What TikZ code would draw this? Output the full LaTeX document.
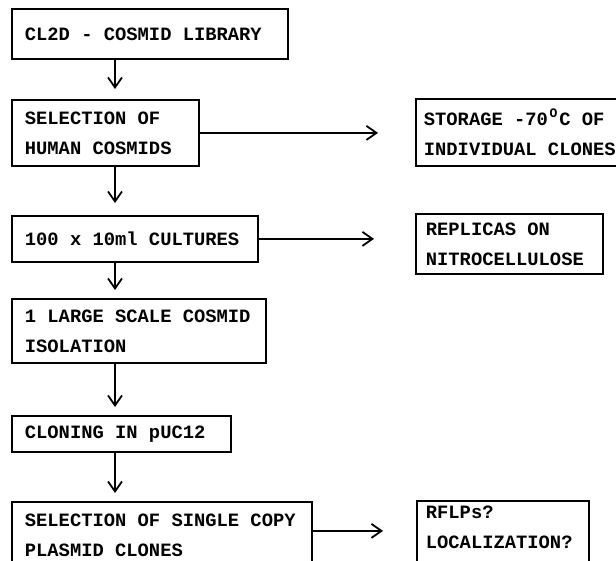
\documentclass[tikz,border=0pt]{standalone}
\usepackage{fontspec}
\setmonofont{Liberation Mono}
\usetikzlibrary{arrows.meta,calc}
\newcommand\fixsp{\spaceskip=11.28pt\relax\xspaceskip=11.28pt\relax}
\begin{document}
\begin{tikzpicture}[x=1pt,y=-1pt,
  box/.style={draw, line width=1.8pt, anchor=north west, inner xsep=13pt, inner ysep=0pt, align=left,
    font=\ttfamily\bfseries\fontsize{18.8}{30}\selectfont, execute at begin node=\fixsp},
  arr/.style={line width=1.8pt, -{Straight Barb[length=10pt,width=14pt,line width=1.8pt]}}]
\useasboundingbox (0,0) rectangle (616,561);
\clip (0,0) rectangle (616,561);
\coordinate (ax) at (115,0);
\node[box, text width=250pt, minimum height=50pt] (b1) at (11,8) {CL2D - COSMID LIBRARY};
\node[box, text width=161pt, minimum height=66pt] (b2) at (11,99) {SELECTION OF\\HUMAN COSMIDS};
\node[box, text width=220pt, minimum height=46pt] (b3) at (11,215) {100 x 10ml CULTURES};
\node[box, text width=228pt, minimum height=64pt] (b4) at (11,298) {1 LARGE SCALE COSMID\\ISOLATION};
\node[box, text width=193pt, minimum height=36pt] (b5) at (11,415) {CLONING IN pUC12};
\node[box, text width=274pt, minimum height=66pt] (b6) at (11,501) {SELECTION OF SINGLE COPY\\PLASMID CLONES};
\node[box, inner xsep=8pt, text width=199pt, minimum height=67pt] (s1) at (415,98)
  {STORAGE -70\raisebox{0.42em}{\makebox[0.6em]{\fontsize{13}{13}\selectfont O}}C OF\\INDIVIDUAL CLONES};
\node[box, inner xsep=10pt, text width=167pt, minimum height=60pt] (s2) at (415,213) {REPLICAS ON\\NITROCELLULOSE};
\node[box, inner xsep=9pt, text width=154pt, minimum height=66pt] (s3) at (416,500) {RFLPs?\\LOCALIZATION?\\[-16pt]\mbox{}};
\coordinate (a6) at ([yshift=4pt]b6.east);
\draw[arr, shorten >=10pt] (b1.south -| ax) -- (b2.north -| ax);
\draw[arr, shorten >=12pt] (b2.south -| ax) -- (b3.north -| ax);
\draw[arr, shorten >=8pt] (b3.south -| ax) -- (b4.north -| ax);
\draw[arr, shorten >=8pt] (b4.south -| ax) -- (b5.north -| ax);
\draw[arr, shorten >=8pt] (b5.south -| ax) -- (b6.north -| ax);
\draw[arr, shorten >=37pt] (b2.east) -- (s1.west |- b2.east);
\draw[arr, shorten >=41pt] (b3.east) -- (s2.west |- b3.east);
\draw[arr, shorten >=33pt] (a6) -- (s3.west |- a6);
\end{tikzpicture}
\end{document}
